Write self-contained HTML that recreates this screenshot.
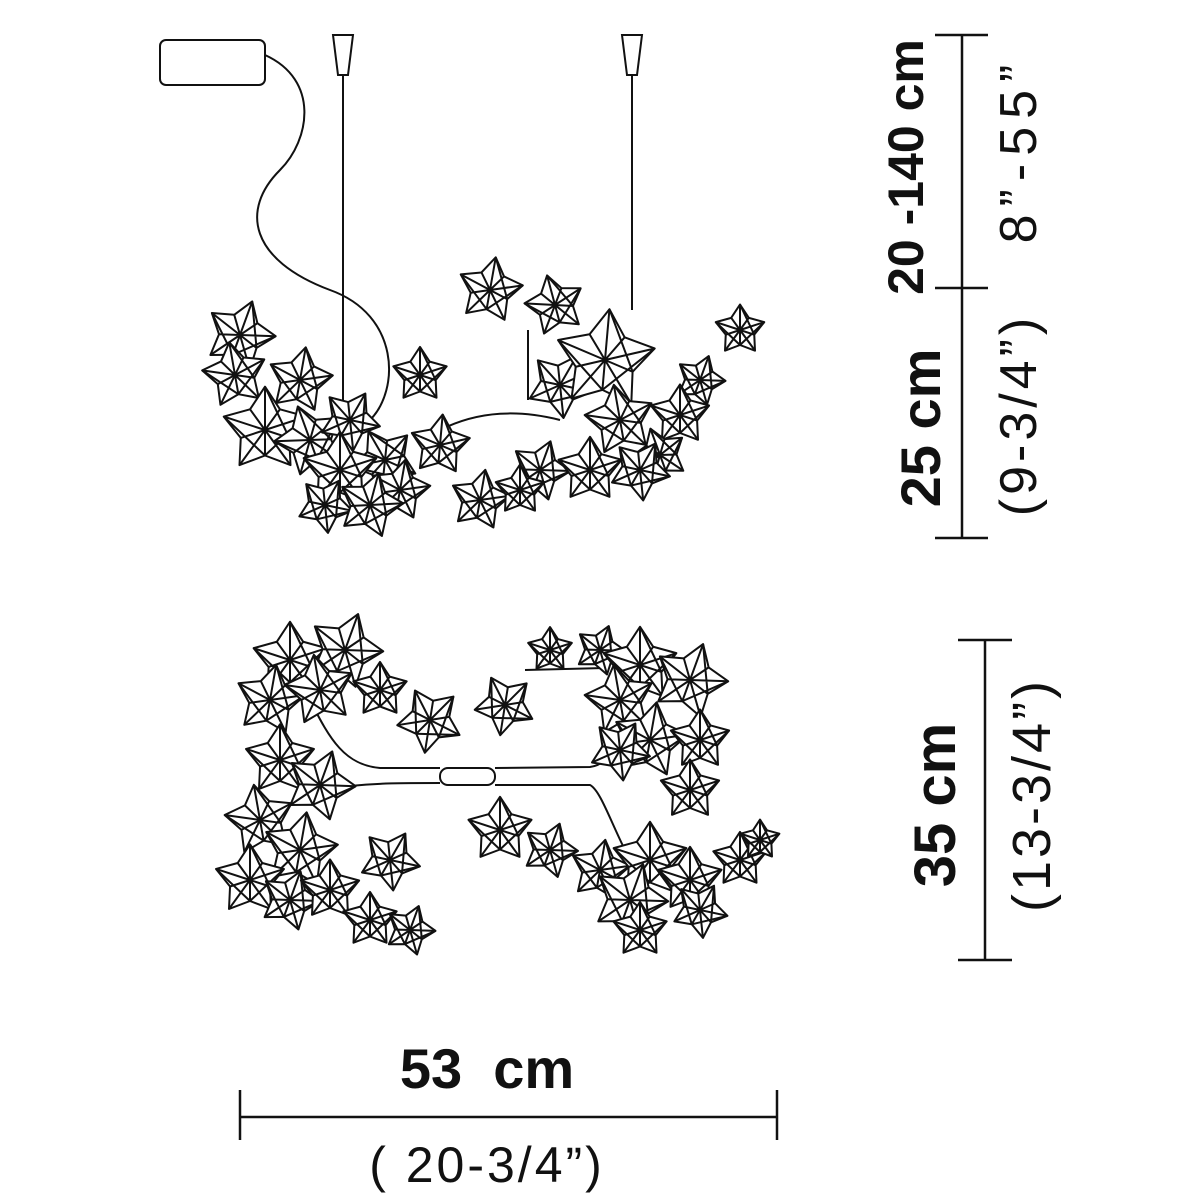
<!DOCTYPE html><html><head><style>body{margin:0;background:#fff}svg{display:block}text{font-family:"Liberation Sans",sans-serif;fill:#111}</style></head><body>
<svg width="1200" height="1200" viewBox="0 0 1200 1200" xmlns="http://www.w3.org/2000/svg">
<defs>
<g id="L" fill="#fff" stroke="#111" stroke-width="2" stroke-linejoin="round">
<polygon vector-effect="non-scaling-stroke" points="0,-51 17.6,-24.3 48.5,-15.8 28.5,9.3 30,41.3 0,30 -30,41.3 -28.5,9.3 -48.5,-15.8 -17.6,-24.3"/>
<path vector-effect="non-scaling-stroke" fill="none" d="M0,0L0,-51M0,0L48.5,-15.8M0,0L30,41.3M0,0L-30,41.3M0,0L-48.5,-15.8M0,0L17.6,-24.3M0,0L28.5,9.3M0,0L0,30M0,0L-28.5,9.3M0,0L-17.6,-24.3M0,-51L28.5,9.3M48.5,-15.8L0,30M-48.5,-15.8L0,30M30,41.3L-17.6,-24.3"/>
</g>
</defs>
<g fill="none" stroke="#111" stroke-width="2">
<rect x="160" y="40" width="105" height="45" rx="6"/>
<path d="M265,55 C320,80 310,140 280,170 C240,210 250,260 330,290 C400,315 400,390 370,420"/>
<path d="M333,35 L353,35 L348,75 L338,75Z"/><path d="M622,35 L642,35 L637,75 L627,75Z"/>
<line x1="343" y1="75" x2="343" y2="400"/><line x1="632" y1="75" x2="632" y2="310"/>
<line x1="528" y1="330" x2="528" y2="400"/>
<path d="M440,430 C480,410 520,410 560,420"/>
<path d="M310,700 C330,740 345,765 380,768 L440,768"/>
<path d="M350,786 C380,783 400,783 440,783"/>
<rect x="440" y="768" width="55" height="17" rx="8"/>
<path d="M495,768 L590,767 C605,765 610,755 615,740"/>
<path d="M495,785 L590,785 C600,790 610,820 625,850"/>
<line x1="525" y1="670" x2="605" y2="668"/>
</g>
<g>
<use href="#L" transform="translate(240,335) rotate(20) scale(.7)"/>
<use href="#L" transform="translate(235,375) rotate(-10) scale(.65)"/>
<use href="#L" transform="translate(300,380) rotate(10) scale(.65)"/>
<use href="#L" transform="translate(265,430) scale(.85)"/>
<use href="#L" transform="translate(310,440) rotate(-20) scale(.7)"/>
<use href="#L" transform="translate(350,420) rotate(30) scale(.6)"/>
<use href="#L" transform="translate(420,375) scale(.55)"/>
<use href="#L" transform="translate(385,460) rotate(-30) scale(.65)"/>
<use href="#L" transform="translate(440,445) rotate(5) scale(.6)"/>
<use href="#L" transform="translate(340,470) scale(.75)"/>
<use href="#L" transform="translate(400,490) rotate(10) scale(.6)"/>
<use href="#L" transform="translate(325,505) rotate(30) scale(.55)"/>
<use href="#L" transform="translate(370,505) rotate(15) scale(.65)"/>
<use href="#L" transform="translate(490,290) rotate(10) scale(.65)"/>
<use href="#L" transform="translate(555,305) rotate(-15) scale(.6)"/>
<use href="#L" transform="translate(560,385) rotate(30) scale(.65)"/>
<use href="#L" transform="translate(605,360) rotate(5) scale(1)"/>
<use href="#L" transform="translate(700,380) rotate(20) scale(.5)"/>
<use href="#L" transform="translate(740,330) scale(.5)"/>
<use href="#L" transform="translate(620,420) rotate(-10) scale(.7)"/>
<use href="#L" transform="translate(680,415) scale(.6)"/>
<use href="#L" transform="translate(660,455) rotate(-20) scale(.55)"/>
<use href="#L" transform="translate(540,470) rotate(20) scale(.6)"/>
<use href="#L" transform="translate(590,470) scale(.65)"/>
<use href="#L" transform="translate(640,470) rotate(30) scale(.6)"/>
<use href="#L" transform="translate(480,500) rotate(10) scale(.6)"/>
<use href="#L" transform="translate(520,490) scale(.5)"/>

<use href="#L" transform="translate(290,660) scale(.75)"/>
<use href="#L" transform="translate(345,650) rotate(20) scale(.75)"/>
<use href="#L" transform="translate(270,700) rotate(10) scale(.7)"/>
<use href="#L" transform="translate(320,690) rotate(-10) scale(.7)"/>
<use href="#L" transform="translate(380,690) scale(.55)"/>
<use href="#L" transform="translate(430,720) rotate(45) scale(.65)"/>
<use href="#L" transform="translate(505,705) rotate(45) scale(.6)"/>
<use href="#L" transform="translate(280,760) scale(.7)"/>
<use href="#L" transform="translate(320,785) rotate(20) scale(.7)"/>
<use href="#L" transform="translate(260,820) rotate(-10) scale(.7)"/>
<use href="#L" transform="translate(300,850) rotate(10) scale(.75)"/>
<use href="#L" transform="translate(250,880) scale(.7)"/>
<use href="#L" transform="translate(290,900) rotate(20) scale(.6)"/>
<use href="#L" transform="translate(330,890) scale(.6)"/>
<use href="#L" transform="translate(390,860) rotate(30) scale(.6)"/>
<use href="#L" transform="translate(370,920) scale(.55)"/>
<use href="#L" transform="translate(410,930) rotate(20) scale(.5)"/>
<use href="#L" transform="translate(550,650) scale(.45)"/>
<use href="#L" transform="translate(600,650) rotate(20) scale(.5)"/>
<use href="#L" transform="translate(640,665) scale(.75)"/>
<use href="#L" transform="translate(690,680) rotate(20) scale(.75)"/>
<use href="#L" transform="translate(620,700) rotate(-10) scale(.7)"/>
<use href="#L" transform="translate(650,740) rotate(10) scale(.75)"/>
<use href="#L" transform="translate(700,740) scale(.6)"/>
<use href="#L" transform="translate(620,750) rotate(30) scale(.6)"/>
<use href="#L" transform="translate(690,790) scale(.6)"/>
<use href="#L" transform="translate(500,830) scale(.65)"/>
<use href="#L" transform="translate(550,850) rotate(20) scale(.55)"/>
<use href="#L" transform="translate(600,870) rotate(10) scale(.6)"/>
<use href="#L" transform="translate(650,860) scale(.75)"/>
<use href="#L" transform="translate(740,860) scale(.55)"/>
<use href="#L" transform="translate(760,840) scale(.4)"/>
<use href="#L" transform="translate(690,880) scale(.65)"/>
<use href="#L" transform="translate(630,900) rotate(20) scale(.75)"/>
<use href="#L" transform="translate(700,910) rotate(30) scale(.55)"/>
<use href="#L" transform="translate(640,930) scale(.55)"/>
</g>
<g stroke="#111" stroke-width="2.5">
<line x1="962" y1="35" x2="962" y2="538"/>
<line x1="935" y1="35" x2="988" y2="35"/><line x1="935" y1="288" x2="988" y2="288"/><line x1="935" y1="538" x2="988" y2="538"/>
<line x1="985" y1="640" x2="985" y2="960"/>
<line x1="958" y1="640" x2="1012" y2="640"/><line x1="958" y1="960" x2="1012" y2="960"/>
<line x1="240" y1="1117" x2="777" y2="1117"/>
<line x1="240" y1="1090" x2="240" y2="1140"/><line x1="777" y1="1090" x2="777" y2="1140"/>
</g>
<g text-anchor="middle">
<text transform="translate(923,167) rotate(-90)" font-size="50" font-weight="bold">20 -140 cm</text>
<text transform="translate(1036,150) rotate(-90)" font-size="52" letter-spacing="8">8”-55”</text>
<text transform="translate(940,428) rotate(-90)" font-size="56" font-weight="bold">25 cm</text>
<text transform="translate(1036,415) rotate(-90)" font-size="52" letter-spacing="4">(9-3/4”)</text>
<text transform="translate(955,805) rotate(-90)" font-size="58" font-weight="bold">35 cm</text>
<text transform="translate(1050,795) rotate(-90)" font-size="54" letter-spacing="3">(13-3/4”)</text>
<text x="487" y="1088" font-size="56" font-weight="bold" xml:space="preserve">53  cm</text>
<text x="487" y="1182" font-size="50" letter-spacing="3">( 20-3/4”)</text>
</g>
</svg>
</body></html>
